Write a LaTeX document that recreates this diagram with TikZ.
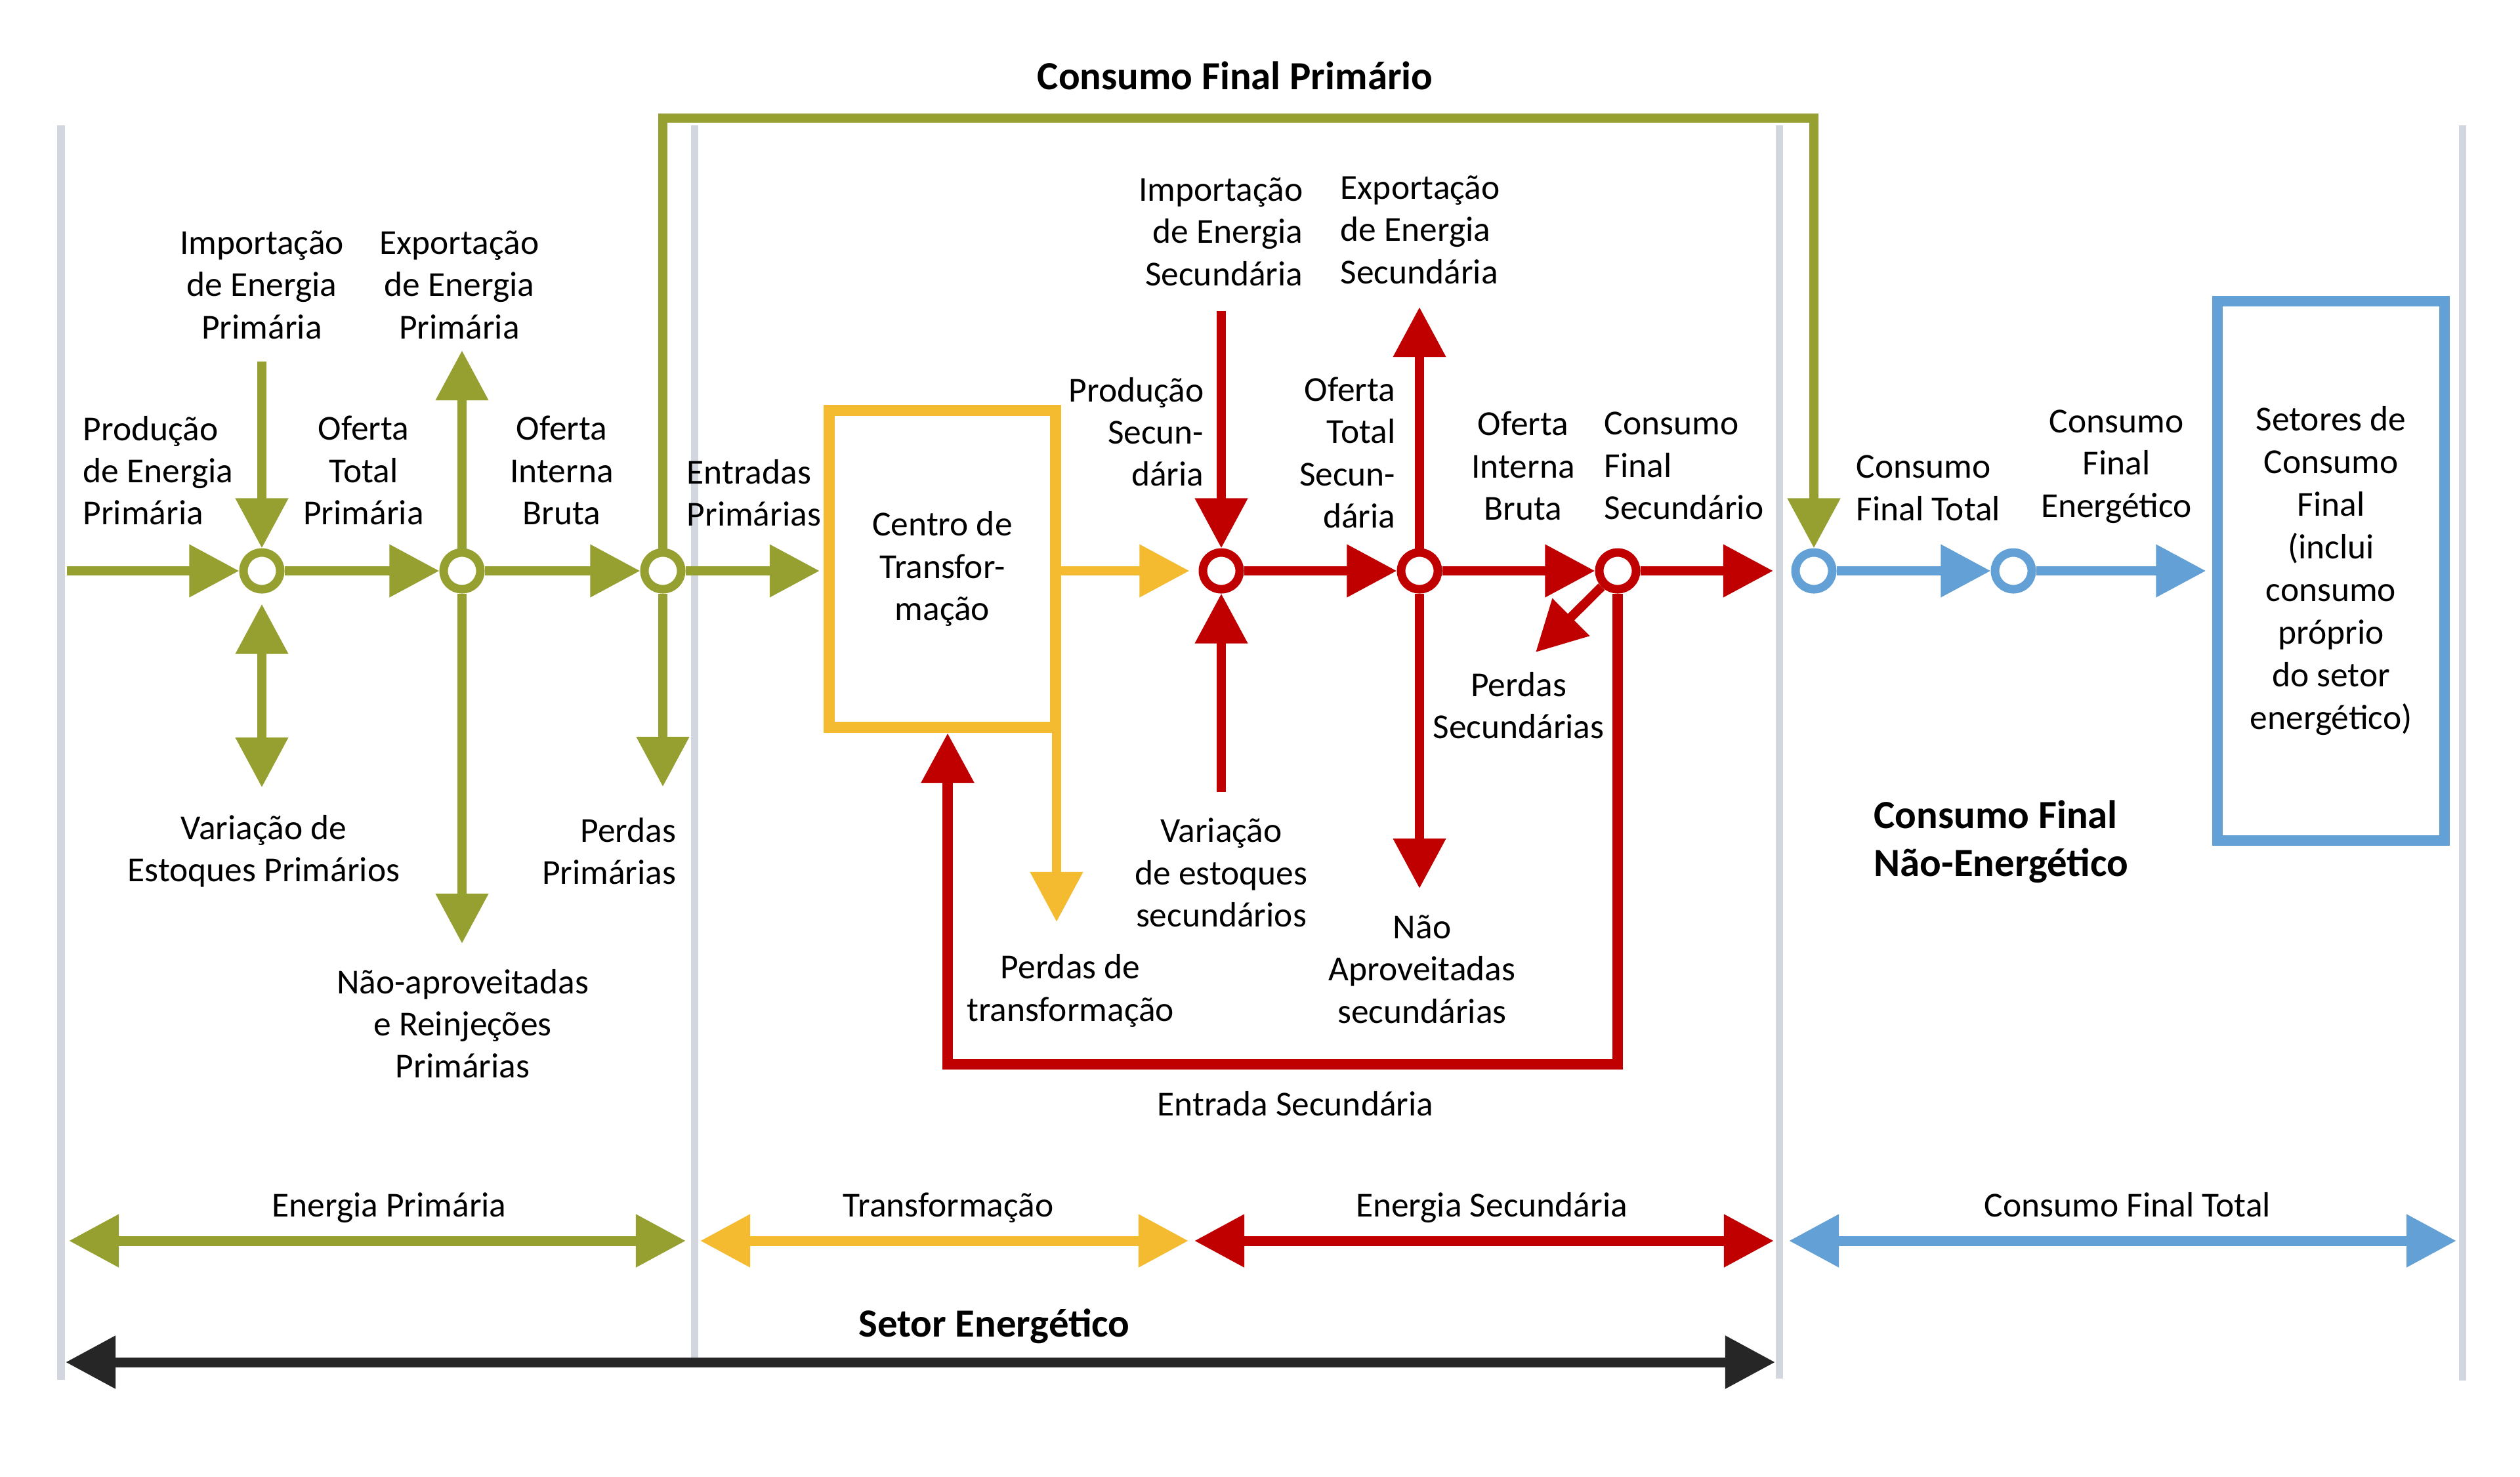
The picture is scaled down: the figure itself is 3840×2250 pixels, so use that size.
\documentclass[tikz,border=0pt]{standalone}
\usepackage{fontspec}
\setmainfont{Carlito}
\usetikzlibrary{arrows.meta}
\definecolor{cgreen}{RGB}{150,160,48}
\definecolor{cyellow}{RGB}{244,187,48}
\definecolor{cred}{RGB}{192,0,0}
\definecolor{cblue}{RGB}{98,160,213}
\definecolor{cblack}{RGB}{38,38,38}
\definecolor{cgrey}{RGB}{210,214,222}
\begin{document}
\begin{tikzpicture}[x=0.01cm,y=-0.01cm,
  >={Triangle[length=7.6mm,width=7.7mm]},
  flowline/.style={line width=1.4mm,->},
  gflow/.style={flowline,draw=cgreen},
  yflow/.style={flowline,draw=cyellow},
  rflow/.style={flowline,draw=cred},
  bflow/.style={flowline,draw=cblue},
  span/.style={line width=1.5mm,<->},
  circ/.style={circle,draw,fill=white,line width=1.3mm,minimum size=5.6mm,inner sep=0pt},
  lbl/.style={font=\fontsize{15.2}{18.3}\selectfont,inner sep=0pt,align=center},
  blbl/.style={font=\fontsize{17.3}{20.8}\selectfont\bfseries,inner sep=0pt,align=center},
  sep/.style={draw=cgrey,line width=1.1mm}
]
\useasboundingbox (0,0) rectangle (3840,2250);
\fill[white] (0,0) rectangle (3840,2250);

% separators
\coordinate (s1t) at (93,191);   \coordinate (s1b) at (93,2103);
\coordinate (s2t) at (1058,191); \coordinate (s2b) at (1058,2076);
\coordinate (s3t) at (2711,191); \coordinate (s3b) at (2711,2101);
\coordinate (s4t) at (3752,191); \coordinate (s4b) at (3752,2104);
\draw[sep] (s1t) -- (s1b);
\draw[sep] (s2t) -- (s2b);
\draw[sep] (s3t) -- (s3b);
\draw[sep] (s4t) -- (s4b);

% boxes
\node[draw=cyellow,line width=1.7mm,minimum width=3.45cm,minimum height=4.83cm,inner sep=0pt,lbl] (tc) at (1436,867) {Centro de\\Transfor-\\mação};
\node[draw=cblue,line width=1.6mm,minimum width=3.45cm,minimum height=8.21cm,inner sep=0pt,font=\fontsize{15.2}{18.5}\selectfont,align=center] (sc) at (3552,870) {Setores de\\Consumo\\Final\\(inclui\\consumo\\próprio\\do setor\\energético)};

% circles
\node[circ,draw=cgreen] (g1) at (399,870) {};
\node[circ,draw=cgreen] (g2) at (704,870) {};
\node[circ,draw=cgreen] (g3) at (1010,870) {};
\node[circ,draw=cred] (r1) at (1861,870) {};
\node[circ,draw=cred] (r2) at (2163,870) {};
\node[circ,draw=cred] (r3) at (2465,870) {};
\node[circ,draw=cblue] (b1) at (2764,870) {};
\node[circ,draw=cblue] (b2) at (3068,870) {};

% free ends
\coordinate (gstart) at (102,870);
\coordinate (g1imp) at (399,551);
\coordinate (g1var) at (399,1200);
\coordinate (g2exp) at (704,534);
\coordinate (g2nao) at (704,1438);
\coordinate (g3perd) at (1010,1199);
\coordinate (cfpR) at (2764,180);
\coordinate (tcpd) at (1610,1405);
\coordinate (r1imp) at (1861,474);
\coordinate (r1var) at (1861,1207);
\coordinate (r2exp) at (2163,468);
\coordinate (r2nao) at (2163,1354);
\coordinate (r3perd) at (2340,994);
\coordinate (r3out) at (2702,870);
\coordinate (rlR) at (2465,1622);
\coordinate (rlL) at (1444,1622);

% green flows
\draw[gflow] (gstart) -- (g1);
\draw[gflow] (g1imp) -- (g1);
\draw[gflow,<->,shorten <=1.6mm] (g1) -- (g1var);
\draw[gflow] (g1) -- (g2);
\draw[gflow] (g2) -- (g2exp);
\draw[gflow] (g2) -- (g2nao);
\draw[gflow] (g2) -- (g3);
\draw[gflow] (g3) -- (g3perd);
\draw[gflow,line width=1.45mm] (g3) |- (cfpR) -- (b1);
\draw[gflow,shorten >=0.6mm] (g3) -- (tc.west |- g3);

% yellow flows
\draw[yflow,shorten >=1.4mm] (tc.east |- r1) -- (r1);
\draw[yflow] (tc.south -| tcpd) -- (tcpd);

% red flows
\draw[rflow] (r1imp) -- (r1);
\draw[rflow] (r1var) -- (r1);
\draw[rflow] (r1) -- (r2);
\draw[rflow] (r2) -- (r2exp);
\draw[rflow] (r2) -- (r2nao);
\draw[rflow] (r2) -- (r3);
\draw[rflow] (r3) -- (r3out);
\draw[rflow] (r3) -- (r3perd);
\draw[rflow,line width=1.55mm] (r3) -- (rlR) -- (rlL) -- (tc.south -| rlL);

% blue flows
\draw[bflow] (b1) -- (b2);
\draw[bflow,shorten >=1mm] (b2) -- (sc.west |- b2);

% bottom spans
\coordinate (epL) at (105,1891);  \coordinate (epR) at (1045,1891);
\coordinate (trL) at (1067,1891); \coordinate (trR) at (1811,1891);
\coordinate (esL) at (1820,1891); \coordinate (esR) at (2703,1891);
\coordinate (cfL) at (2726,1891); \coordinate (cfR) at (3743,1891);
\coordinate (seL) at (100,2076);  \coordinate (seR) at (2705,2076);
\draw[span,draw=cgreen] (epL) -- (epR);
\draw[span,draw=cyellow] (trL) -- (trR);
\draw[span,draw=cred] (esL) -- (esR);
\draw[span,draw=cblue] (cfL) -- (cfR);
\draw[span,draw=cblack] (seL) -- (seR);

% labels
\node[blbl,anchor=base] (tCFP) at (1882,136) {Consumo Final Primário};
\node[lbl,align=left,anchor=west] (lProdP) at (126,717) {Produção\\de Energia\\Primária};
\node[lbl] (lImpP) at (399,434) {Importação\\de Energia\\Primária};
\node[lbl] (lExpP) at (700,434) {Exportação\\de Energia\\Primária};
\node[lbl] (lOTP) at (554,717) {Oferta\\Total\\Primária};
\node[lbl] (lOIB) at (856,717) {Oferta\\Interna\\Bruta};
\node[lbl,align=left,anchor=west] (lEntP) at (1046,751) {Entradas\\Primárias};
\node[lbl] (lVarP) at (402,1297) {Variação de\\Estoques Primários};
\node[lbl,align=right,anchor=east] (lPerdP) at (1031,1297) {Perdas\\Primárias};
\node[lbl] (lNaoP) at (705,1560) {Não-aproveitadas\\e Reinjeções\\Primárias};
\node[lbl,align=right,anchor=east] (lProdS) at (1835,658) {Produção\\Secun-\\dária};
\node[lbl,align=right,anchor=east] (lImpS) at (1986,353) {Importação\\de Energia\\Secundária};
\node[lbl,align=left,anchor=west] (lExpS) at (2042,350) {Exportação\\de Energia\\Secundária};
\node[lbl,align=right,anchor=east] (lOTS) at (2127,690) {Oferta\\Total\\Secun-\\dária};
\node[lbl] (lOIBS) at (2321,710) {Oferta\\Interna\\Bruta};
\node[lbl,align=left,anchor=west] (lCFS) at (2444,710) {Consumo\\Final\\Secundário};
\node[lbl] (lPerdS) at (2314,1075) {Perdas\\Secundárias};
\node[lbl] (lVarS) at (1861,1330) {Variação\\de estoques\\secundários};
\node[lbl] (lNaoS) at (2167,1477) {Não\\Aproveitadas\\secundárias};
\node[lbl] (lPerdT) at (1631,1510) {Perdas de\\transformação};
\node[lbl] (lEntS) at (1974,1682) {Entrada Secundária};
\node[lbl,align=left,anchor=west] (lCFT) at (2828,744) {Consumo\\Final Total};
\node[lbl] (lCFE) at (3225,711) {Consumo\\Final\\Energético};
\node[blbl,align=left,anchor=west] (lCFNE) at (2855,1283) {Consumo Final\\Não-Energético};
\node[lbl,anchor=base] (bEP) at (593,1854) {Energia Primária};
\node[lbl,anchor=base] (bTR) at (1445,1854) {Transformação};
\node[lbl,anchor=base] (bES) at (2273,1854) {Energia Secundária};
\node[lbl,anchor=base] (bCFT) at (3242,1854) {Consumo Final Total};
\node[blbl,anchor=base] (bSE) at (1515,2037) {Setor Energético};
\end{tikzpicture}
\end{document}
